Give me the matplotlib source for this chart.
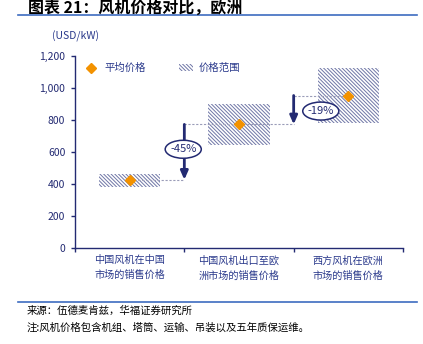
import matplotlib
matplotlib.use("Agg")
import matplotlib.pyplot as plt
from matplotlib.patches import Rectangle, Ellipse
from matplotlib.lines import Line2D
import numpy as np

plt.rcParams['font.family'] = ['Noto Sans CJK SC', 'DejaVu Sans']
plt.rcParams['hatch.linewidth'] = 0.7

categories = ["中国风机在中国\n市场的销售价格", "中国风机出口至欧\n洲市场的销售价格", "西方风机在欧洲\n市场的销售价格"]
avg_price = [427, 772, 952]
low_price = [385, 642, 780]
high_price = [466, 898, 1126]
change_labels = ["-45%", "-19%"]
yticks = [0, 200, 400, 600, 800, 1000, 1200]

navy = "#232a72"
textblue = "#2b3a8c"
hatchc = "#6f76a6"
orange = "#f39200"
HATCH = "\\" * 9

fig = plt.figure(figsize=(4.23, 3.44), dpi=100)
ax = fig.add_axes([75/423, 1-248.3/344, 328/423, 192.6/344])

x = np.arange(len(categories))
w = 0.56
for xi, lo, hi in zip(x, low_price, high_price):
    ax.add_patch(Rectangle((xi - w/2, lo), w, hi - lo, facecolor="white",
                           edgecolor=hatchc, hatch=HATCH, linewidth=0, zorder=2))

# dashed connectors
dash = dict(ls=(0, (2, 1.5)), color="#9a9cb8", lw=0.8, zorder=3)
ax.plot([x[0], 0.5], [avg_price[0], avg_price[0]], **dash)
ax.plot([0.5, x[1]], [avg_price[1], avg_price[1]], **dash)
ax.plot([x[1], 1.5], [avg_price[1], avg_price[1]], **dash)
ax.plot([1.5, x[2]], [avg_price[2], avg_price[2]], **dash)

ax.plot(x, avg_price, linestyle="none", marker="D", markersize=5.5, color=orange, zorder=5)

# arrows
for xa, top, bot in [(0.5, avg_price[1], avg_price[0]), (1.5, avg_price[2], avg_price[1])]:
    ax.annotate("", xy=(xa, bot), xytext=(xa, top),
                arrowprops=dict(arrowstyle="-|>,head_length=0.5,head_width=0.22", color=navy, lw=2,
                                shrinkA=0, shrinkB=0), zorder=4)

# ellipse labels
ell_pos = [(0.49, 617), (1.748, 855)]
for (ex, ey), lab in zip(ell_pos, change_labels):
    ax.add_patch(Ellipse((ex, ey), 0.33, 112, facecolor="white", edgecolor=navy, lw=1.1, zorder=6))
    ax.text(ex, ey, lab, ha="center", va="center", fontsize=8, color=navy, zorder=7)

ax.set_xlim(-0.5, 2.5)
ax.set_ylim(0, 1200)
ax.set_yticks(yticks)
ax.set_yticklabels([f"{v:,}" for v in yticks], fontsize=7.5, color=navy)
ax.set_xticks([-0.5, 0.5, 1.5, 2.5])
ax.set_xticklabels([])
ax.set_xticks(x, minor=True)
ax.set_xticklabels(categories, minor=True, fontsize=7.3, color=textblue, linespacing=1.6)
ax.tick_params(axis="x", which="minor", length=0, pad=5)
ax.tick_params(axis="x", which="major", length=3, color=navy, width=1)
ax.tick_params(axis="y", length=3, color=navy, width=1, pad=4)
for s in ["top", "right"]:
    ax.spines[s].set_visible(False)
for s in ["left", "bottom"]:
    ax.spines[s].set_color(navy)
    ax.spines[s].set_linewidth(1)

# legend
h1 = Line2D([], [], linestyle="none", marker="D", markersize=5.5, color=orange)
h2 = Rectangle((0, 0), 1, 1, facecolor="white", edgecolor=hatchc, hatch=HATCH, linewidth=0)
leg = ax.legend([h1, h2], ["平均价格", "价格范围"], ncol=2, frameon=False, loc="upper left",
                bbox_to_anchor=(0.0, 1.01), fontsize=7.5, handlelength=1.3, handletextpad=0.6,
                columnspacing=3.2)
for t in leg.get_texts():
    t.set_color(textblue)

fig.text(52/423, 1-36/344, "(USD/kW)", fontsize=7.5, color=textblue, ha="left", va="center")

# title and frame lines
fig.text(28/423, 1-13/344, "图表 21：风机价格对比，欧洲", fontsize=11.5, fontweight="bold",
         color="black", ha="left", va="baseline")
fig.add_artist(Line2D([18/423, 417/423], [1-15.3/344, 1-15.3/344], color="#3d6cc0", lw=1.2))
fig.add_artist(Line2D([18/423, 417/423], [1-302.3/344, 1-302.3/344], color="#3d6cc0", lw=1.2))

fig.text(27/423, 1-311/344, "来源：伍德麦肯兹，华福证券研究所", fontsize=7.5, color="black", ha="left", va="center")
fig.text(27/423, 1-328/344, "注:风机价格包含机组、塔筒、运输、吊装以及五年质保运维。", fontsize=7.5,
         color="black", ha="left", va="center")

fig.savefig("out.png", dpi=100)
